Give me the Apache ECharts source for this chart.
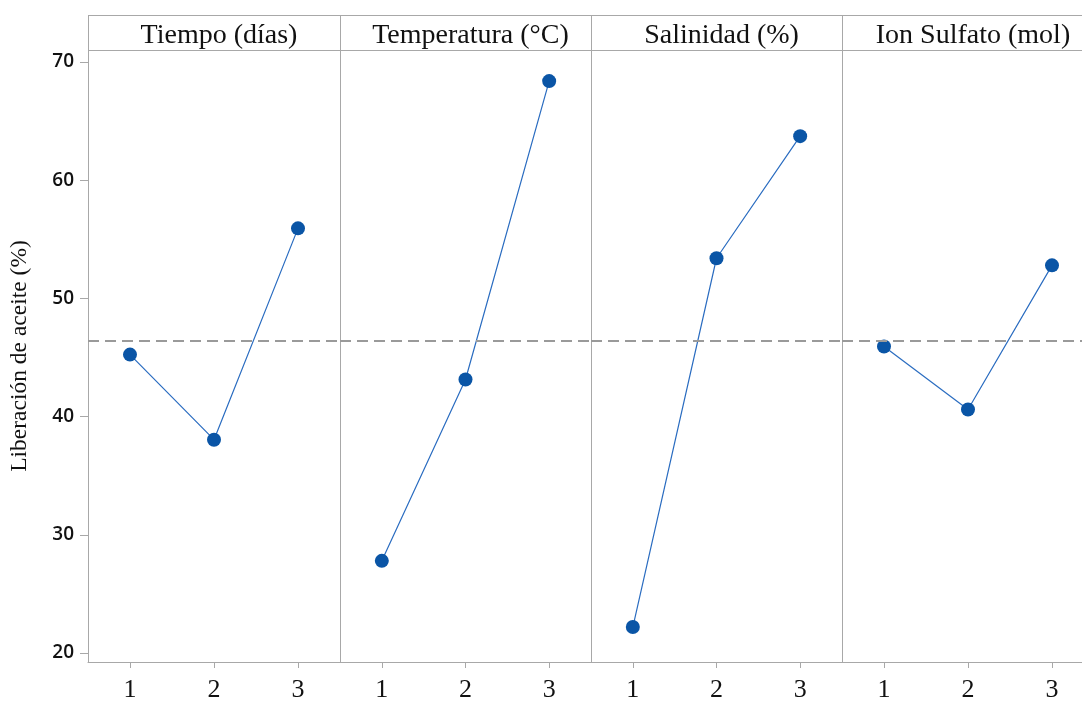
<!DOCTYPE html>
<html><head><meta charset="utf-8">
<script src="https://cdn.jsdelivr.net/npm/echarts@6/dist/echarts.min.js"></script>
<style>html,body{margin:0;padding:0;background:#fff;overflow:hidden}#c{width:1100px;height:703px}</style>
</head><body><div id="c"></div>
<script>
const panels = ['Tiempo (días)', 'Temperatura (°C)', 'Salinidad (%)', 'Ion Sulfato (mol)'];
const levels = ['1', '2', '3'];
const tiempo = [45.25, 38.05, 55.93];
const temperatura = [27.8, 43.14, 68.39];
const salinidad = [22.2, 53.4, 63.73];
const ionSulfato = [45.93, 40.6, 52.8];
const yTicks = [20, 30, 40, 50, 60, 70];
const grandMean = 46.44;
const yTitle = 'Liberación de aceite (%)';

const seriesData = [tiempo, temperatura, salinidad, ionSulfato];
const lefts = [88, 340, 591, 842, 1094];
const TOP = 50, HDR = 15, BOT = 41;
const border = '#a8a8a8';
const serif = '"Liberation Serif","Times New Roman",serif';

const grids = [], xAxes = [], yAxes = [], series = [], graphics = [], titles = [];
panels.forEach((p, i) => {
  const left = lefts[i], w = lefts[i + 1] - lefts[i];
  grids.push({left: left, width: w, top: TOP, bottom: BOT, show: false,
    containLabel: false, outerBoundsMode: 'none'});
  xAxes.push({type: 'category', gridIndex: i, data: levels, boundaryGap: true,
    axisLine: {show: true, lineStyle: {color: border}},
    axisTick: {show: true, alignWithLabel: true, length: 6, lineStyle: {color: border}},
    axisLabel: {fontFamily: serif, fontSize: 26, color: '#111', margin: 15}});
  yAxes.push({type: 'value', gridIndex: i, min: 19.24, max: 71.02,
    splitLine: {show: false},
    axisLine: {show: true, lineStyle: {color: border}},
    axisTick: {show: i === 0, length: 8, lineStyle: {color: border}, customValues: yTicks},
    axisLabel: {show: i === 0, customValues: yTicks, fontFamily: '"Open Sans","Noto Sans",sans-serif', fontSize: 19, fontWeight: 600, color: '#111', margin: 14},
    name: i === 0 ? yTitle : '', nameLocation: 'middle', nameGap: 56,
    nameTextStyle: {fontFamily: serif, fontSize: 23.5, color: '#111'}});
  series.push({type: 'line', xAxisIndex: i, yAxisIndex: i, data: seriesData[i],
    symbol: 'circle', symbolSize: 14,
    itemStyle: {color: '#0a55a6'},
    lineStyle: {color: '#2a6cc0', width: 1.2},
    markLine: {silent: true, symbol: 'none', label: {show: false},
      lineStyle: {color: '#9a9a9a', type: [11, 6], width: 2},
      data: [{yAxis: grandMean}]},
    animation: false});
  graphics.push({type: 'line', shape: {x1: left + 0.5, y1: HDR, x2: left + 0.5, y2: TOP},
    style: {stroke: border, lineWidth: 1}});
  titles.push({text: p, left: left + w / 2, top: HDR + 2, textAlign: 'center',
    textStyle: {fontFamily: serif, fontSize: 28, fontWeight: 'normal', color: '#111'}});
});
graphics.push({type: 'line', shape: {x1: lefts[0], y1: HDR + 0.5, x2: 1100, y2: HDR + 0.5}, style: {stroke: border, lineWidth: 1}});
graphics.push({type: 'line', shape: {x1: lefts[0], y1: TOP + 0.5, x2: 1100, y2: TOP + 0.5}, style: {stroke: border, lineWidth: 1}});

const chart = echarts.init(document.getElementById('c'), null, {renderer: 'canvas'});
chart.setOption({
  animation: false,
  title: titles,
  grid: grids, xAxis: xAxes, yAxis: yAxes, series: series,
  graphic: graphics
});
</script></body></html>
